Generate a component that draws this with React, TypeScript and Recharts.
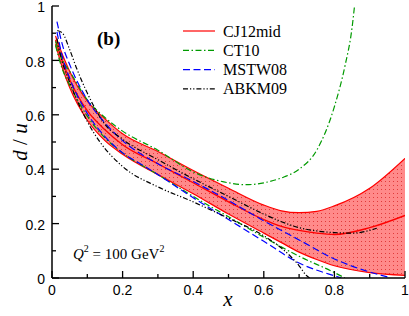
import React from "react";
import { ComposedChart, Line, Area, XAxis, YAxis } from "recharts";

// CJ12mid band (x grid shared by lower / central / upper)
const cjX = [0.01, 0.03, 0.05, 0.1, 0.15, 0.2, 0.3, 0.4, 0.5, 0.6, 0.65, 0.7, 0.75, 0.8, 0.9, 1.0];
const cjLow = [0.86, 0.77, 0.7, 0.58, 0.505, 0.455, 0.38, 0.31, 0.235, 0.165, 0.13, 0.095, 0.068, 0.045, 0.02, 0.01];
const cjMid = [0.875, 0.795, 0.73, 0.615, 0.545, 0.49, 0.42, 0.35, 0.28, 0.215, 0.19, 0.175, 0.165, 0.16, 0.185, 0.23];
const cjHigh = [0.89, 0.82, 0.76, 0.65, 0.585, 0.53, 0.465, 0.395, 0.33, 0.268, 0.247, 0.24, 0.245, 0.265, 0.33, 0.44];

// CT10
const ctHighX = [0.01, 0.03, 0.05, 0.1, 0.15, 0.2, 0.3, 0.4, 0.5, 0.55, 0.6, 0.65, 0.7, 0.75, 0.8, 0.83, 0.85, 0.857];
const ctHighY = [0.87, 0.8, 0.76, 0.655, 0.59, 0.54, 0.47, 0.39, 0.35, 0.343, 0.35, 0.368, 0.4, 0.47, 0.63, 0.78, 0.92, 1.0];
const ctLowX = [0.01, 0.03, 0.05, 0.1, 0.15, 0.2, 0.3, 0.4, 0.5, 0.6, 0.7, 0.8, 0.83];
const ctLowY = [0.855, 0.765, 0.71, 0.595, 0.515, 0.46, 0.38, 0.3, 0.225, 0.15, 0.08, 0.02, 0.0];

// MSTW08
const mwHighX = [0.014, 0.03, 0.05, 0.1, 0.15, 0.2, 0.3, 0.4, 0.5, 0.6, 0.7, 0.8, 0.9, 0.95];
const mwHighY = [0.943, 0.855, 0.785, 0.655, 0.57, 0.505, 0.42, 0.355, 0.285, 0.21, 0.14, 0.07, 0.022, 0.004];
const mwLowX = [0.014, 0.03, 0.05, 0.1, 0.15, 0.2, 0.25, 0.3, 0.4, 0.5, 0.6, 0.7, 0.8, 0.82];
const mwLowY = [0.905, 0.81, 0.735, 0.605, 0.52, 0.46, 0.42, 0.38, 0.295, 0.215, 0.135, 0.055, 0.008, 0.0];

// ABKM09
const abHighX = [0.015, 0.03, 0.05, 0.07, 0.1, 0.15, 0.2, 0.3, 0.4, 0.5, 0.6, 0.65, 0.7, 0.75, 0.8, 0.85, 0.9, 0.92];
const abHighY = [0.91, 0.9, 0.84, 0.77, 0.68, 0.565, 0.51, 0.435, 0.365, 0.3, 0.235, 0.207, 0.185, 0.173, 0.167, 0.165, 0.175, 0.183];
const abLowX = [0.014, 0.03, 0.05, 0.1, 0.136, 0.2, 0.3, 0.4, 0.45, 0.5, 0.6, 0.65, 0.7, 0.72, 0.73];
const abLowY = [0.88, 0.79, 0.72, 0.575, 0.5, 0.41, 0.335, 0.28, 0.25, 0.22, 0.155, 0.11, 0.045, 0.01, 0.0];

const xTicks = [0, 0.1, 0.2, 0.3, 0.4, 0.5, 0.6, 0.7, 0.8, 0.9, 1];
const yTicks = [0, 0.1, 0.2, 0.3, 0.4, 0.5, 0.6, 0.7, 0.8, 0.9, 1];

const pts = (xs: number[], ys: number[]) => xs.map((x, i) => ({ x, y: ys[i] }));
const band = cjX.map((x, i) => ({ x, lo: cjLow[i], mid: cjMid[i], hi: cjHigh[i] }));

const RED = "#ff0000";
const GREEN = "#009a00";
const BLUE = "#0000ff";
const DASH_CT = "6 2.5 1.5 2.5";
const DASH_MW = "7 3.5";
const DASH_AB = "5 2 1.2 2 1.2 2";

const SANS = "'Liberation Sans', Arial, sans-serif";
const SERIF = "'Liberation Serif', 'Times New Roman', serif";
const MAJOR = 7;
const MINOR = 4;

const isMajor = (v: number) => Math.round(v * 10) % 2 === 0;
const fmt = (v: number) => String(Math.round(v * 10) / 10);

const BottomTick = (props: any) => {
  const { x, y, payload } = props;
  const ay = y - 6;
  const len = isMajor(payload.value) ? MAJOR : MINOR;
  return (
    <g>
      <line x1={x} x2={x} y1={ay} y2={ay - len} stroke="#000" strokeWidth={1.3} />
      {isMajor(payload.value) && (
        <text x={x} y={y} dy="0.75em" textAnchor="middle" fontFamily={SANS} fontSize={14} fill="#000">
          {fmt(payload.value)}
        </text>
      )}
    </g>
  );
};

const LeftTick = (props: any) => {
  const { x, y, payload } = props;
  const ax = x + 7;
  const len = isMajor(payload.value) ? MAJOR : MINOR;
  return (
    <g>
      <line x1={ax} x2={ax + len} y1={y} y2={y} stroke="#000" strokeWidth={1.3} />
      {isMajor(payload.value) && (
        <text x={x} y={y} dy="0.44em" textAnchor="end" fontFamily={SANS} fontSize={14} fill="#000">
          {fmt(payload.value)}
        </text>
      )}
    </g>
  );
};

const TopTick = (props: any) => {
  const { x, y, payload } = props;
  const len = isMajor(payload.value) ? MAJOR : MINOR;
  return <line x1={x} x2={x} y1={y} y2={y + len} stroke="#000" strokeWidth={1.3} />;
};

const RightTick = (props: any) => {
  const { x, y, payload } = props;
  const len = isMajor(payload.value) ? MAJOR : MINOR;
  return <line x1={x} x2={x - len} y1={y} y2={y} stroke="#000" strokeWidth={1.3} />;
};

const legendRows = [
  { name: "CJ12mid", color: RED, dash: undefined as string | undefined },
  { name: "CT10", color: GREEN, dash: DASH_CT },
  { name: "MSTW08", color: BLUE, dash: DASH_MW },
  { name: "ABKM09", color: "#000", dash: DASH_AB },
];

const curve = (key: string, data: { x: number; y: number }[], color: string, dash?: string, w = 1.2) => (
  <Line
    key={key}
    data={data}
    dataKey="y"
    type="monotone"
    stroke={color}
    strokeWidth={w}
    strokeDasharray={dash}
    dot={false}
    activeDot={false}
    isAnimationActive={false}
  />
);

export default function App() {
  const axisLine = { stroke: "#000", strokeWidth: 1.5 };
  return (
    <div style={{ position: "absolute", left: 0, top: 0, background: "#fff" }}>
      <ComposedChart width={409} height={316} margin={{ top: 6, right: 4, bottom: 0, left: 0 }}>
        <defs>
          <pattern id="dots" width="4" height="4" patternUnits="userSpaceOnUse">
            <rect width="4" height="4" fill="#ff8a8a" />
            <rect x="1" y="1" width="1" height="1" fill="#e03a3a" />
          </pattern>
        </defs>
        <XAxis
          dataKey="x"
          type="number"
          domain={[0, 1]}
          allowDataOverflow
          ticks={xTicks}
          interval={0}
          height={38}
          tickSize={0}
          tickMargin={6}
          axisLine={axisLine}
          tickLine={false}
          tick={<BottomTick />}
        />
        <XAxis
          xAxisId="top"
          orientation="top"
          type="number"
          domain={[0, 1]}
          allowDataOverflow
          ticks={xTicks}
          interval={0}
          height={0}
          tickSize={0}
          tickMargin={0}
          axisLine={axisLine}
          tickLine={false}
          tick={<TopTick />}
        />
        <YAxis
          type="number"
          domain={[0, 1]}
          allowDataOverflow
          ticks={yTicks}
          interval={0}
          width={52}
          tickSize={0}
          tickMargin={7}
          axisLine={axisLine}
          tickLine={false}
          tick={<LeftTick />}
        />
        <YAxis
          yAxisId="right"
          orientation="right"
          type="number"
          domain={[0, 1]}
          allowDataOverflow
          ticks={yTicks}
          interval={0}
          width={0}
          tickSize={0}
          tickMargin={0}
          axisLine={axisLine}
          tickLine={false}
          tick={<RightTick />}
        />
        <Area
          data={band}
          dataKey={(d: any) => [d.lo, d.hi]}
          type="monotone"
          fill="url(#dots)"
          fillOpacity={1}
          stroke="none"
          activeDot={false}
          isAnimationActive={false}
        />
        {curve("cjLo", pts(cjX, cjLow), RED)}
        {curve("cjHi", pts(cjX, cjHigh), RED)}
        {curve("cjMid", pts(cjX, cjMid), RED, undefined, 1.3)}
        {curve("ctHi", pts(ctHighX, ctHighY), GREEN, DASH_CT)}
        {curve("ctLo", pts(ctLowX, ctLowY), GREEN, DASH_CT)}
        {curve("mwHi", pts(mwHighX, mwHighY), BLUE, DASH_MW)}
        {curve("mwLo", pts(mwLowX, mwLowY), BLUE, DASH_MW)}
        {curve("abHi", pts(abHighX, abHighY), "#000", DASH_AB)}
        {curve("abLo", pts(abLowX, abLowY), "#000", DASH_AB)}

        <g>
          {legendRows.map((r, i) => (
            <g key={r.name}>
              <line x1={183} x2={215} y1={31 + i * 19.3} y2={31 + i * 19.3} stroke={r.color} strokeWidth={1.2} strokeDasharray={r.dash} />
              <text x={223} y={36.5 + i * 19.3} fontFamily={SERIF} fontSize={16} fill="#000">
                {r.name}
              </text>
            </g>
          ))}
          <text x={97} y={45} fontFamily={SERIF} fontSize={19} fontWeight="bold" fill="#000">
            (b)
          </text>
          <text x={73} y={259} fontFamily={SERIF} fontSize={15} fill="#000">
            <tspan fontStyle="italic">Q</tspan>
            <tspan dy={-7} fontSize={10}>2</tspan>
            <tspan dy={7}> = 100 GeV</tspan>
            <tspan dy={-7} fontSize={10}>2</tspan>
          </text>
          <text x={228} y={306} textAnchor="middle" fontFamily={SERIF} fontSize={21} fontStyle="italic" fill="#000">
            x
          </text>
          <text
            transform="translate(27,142) rotate(-90)"
            textAnchor="middle"
            fontFamily={SERIF}
            fontSize={21}
            fill="#000"
          >
            <tspan fontStyle="italic">d</tspan>
            <tspan> / </tspan>
            <tspan fontStyle="italic">u</tspan>
          </text>
        </g>
      </ComposedChart>
    </div>
  );
}
